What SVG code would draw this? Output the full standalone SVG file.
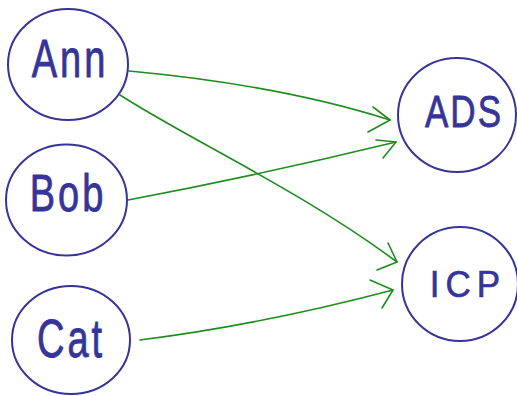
<svg xmlns="http://www.w3.org/2000/svg" width="517" height="396" viewBox="0 0 517 396">
<style>
.node ellipse{fill:#fff;stroke:#35349a;stroke-width:2}
.node text{font-family:"Liberation Sans",Arial,sans-serif;fill:#35349a;stroke:#35349a;stroke-width:0.6;stroke-linejoin:round;text-anchor:middle}
.big{font-size:38px;letter-spacing:3px}
.small{font-size:35px;letter-spacing:2px}
.wide{letter-spacing:6px}
#edges path{fill:none;stroke:#1e8c1e;stroke-width:1.6;stroke-linecap:round;stroke-linejoin:round}
</style>
<rect width="517" height="396" fill="#fff"/>
<g id="edges">
<path d="M129,71 Q280,85 390,120"/>
<path d="M373,107 L390,120 L368,132"/>
<path d="M128,200 Q260,175 396,142"/>
<path d="M376,140 L396,142 L383,158"/>
<path d="M120,95 C190,140 300,190 397,262"/>
<path d="M388,243 L397,262 L377,270"/>
<path d="M140,340 Q260,325 393,290"/>
<path d="M370,280 L393,290 L382,308"/>
</g>
<g id="ann" class="node"><ellipse cx="68" cy="64.5" rx="60" ry="55.5"/><text class="big" transform="translate(70,77) scale(1,1.42)">Ann</text></g>
<g id="bob" class="node"><ellipse cx="66.5" cy="200" rx="60.5" ry="55.5"/><text class="big" transform="translate(68,211) scale(1,1.38)">Bob</text></g>
<g id="cat" class="node"><ellipse cx="71" cy="340" rx="59" ry="54"/><text class="big" transform="translate(71,357) scale(1,1.42)">Cat</text></g>
<g id="ads" class="node"><ellipse cx="457" cy="115" rx="59" ry="57"/><text class="small" transform="translate(464,127) scale(1,1.28)">ADS</text></g>
<g id="icp" class="node"><ellipse cx="460" cy="284" rx="58" ry="57"/><text class="small wide" transform="translate(468,297) scale(1,1.08)">ICP</text></g>
</svg>
